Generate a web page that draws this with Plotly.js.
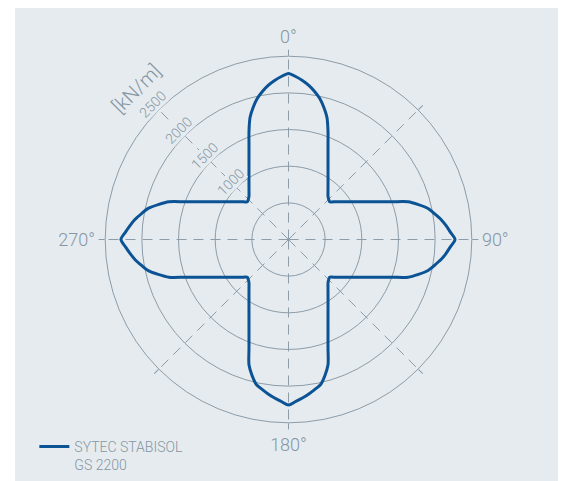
<!DOCTYPE html>
<html>
<head>
<meta charset="utf-8">
<script src="https://cdn.plot.ly/plotly-3.0.1.min.js"></script>
<style>html,body{margin:0;padding:0;background:#fff;}#chart{width:563px;height:481px;}</style>
</head>
<body>
<div id="chart"></div>
<script>
// Direction (degrees, clockwise from top) and tensile strength [kN/m]
const thetaDeg = [
  0, 2.5, 5, 7.5, 10, 12.5, 15, 17.5, 20, 22.5, 25, 30, 35, 40, 42.5, 45,
  47.5, 50, 55, 60, 65, 67.5, 70, 72.5, 75, 77.5, 80, 82.5, 85, 87.5, 90,
  92.5, 95, 97.5, 100, 102.5, 105, 107.5, 110, 112.5, 115, 120, 125, 130, 132.5, 135,
  137.5, 140, 145, 150, 155, 157.5, 160, 162.5, 165, 167.5, 170, 172.5, 175, 177.5, 180,
  182.5, 185, 187.5, 190, 192.5, 195, 197.5, 200, 202.5, 205, 210, 215, 220, 222.5, 225,
  227.5, 230, 235, 240, 245, 247.5, 250, 252.5, 255, 257.5, 260, 262.5, 265, 267.5, 270,
  272.5, 275, 277.5, 280, 282.5, 285, 287.5, 290, 292.5, 295, 300, 305, 310, 312.5, 315,
  317.5, 320, 325, 330, 335, 337.5, 340, 342.5, 345, 347.5, 350, 352.5, 355, 357.5, 360
];
const strength = [
  2265, 2225, 2177, 2120, 2050, 1970, 1865, 1745, 1575, 1408, 1275, 1078, 940, 838, 798, 775,
  761, 800, 896, 1028, 1217, 1344, 1503, 1710, 1835, 1950, 2023, 2098, 2158, 2212, 2271,
  2212, 2158, 2098, 2023, 1950, 1835, 1710, 1503, 1344, 1217, 1028, 896, 800, 761, 775,
  798, 838, 940, 1078, 1275, 1408, 1575, 1792, 1920, 2026, 2076, 2125, 2171, 2212, 2257,
  2212, 2171, 2125, 2076, 2026, 1920, 1792, 1575, 1408, 1275, 1078, 940, 838, 798, 775,
  761, 800, 896, 1028, 1217, 1344, 1503, 1710, 1840, 1960, 2035, 2110, 2170, 2228, 2285,
  2228, 2170, 2110, 2035, 1960, 1840, 1710, 1503, 1344, 1217, 1028, 896, 800, 761, 775,
  798, 838, 940, 1078, 1275, 1408, 1575, 1745, 1865, 1970, 2050, 2120, 2177, 2225, 2265
];
const seriesName = 'SYTEC STABISOL<br>GS 2200';
const radialTicks = [500, 1000, 1500, 2000, 2500];
const radialTickText = ['', '1000', '1500', '2000', '2500'];
const angleTicks = [0, 45, 90, 135, 180, 225, 270, 315];
const angleTickText = ['0°', '', '90°', '', '180°', '', '270°', ''];
const unitLabel = '[kN/m]';
const labelDirDeg = 315; // radial labels sit on the 315° spoke (clockwise from top = upper-left)

const FONT = 'Roboto, "Open Sans", sans-serif';
const TXT = '#8496a3';
const GRID = '#8c9ca8';
const BG = '#e6ebef';
const RMAX = radialTicks[radialTicks.length - 1];

const polarDomX = [105.2 / 563, 471.8 / 563];
const polarDomY = [1 - 422.8 / 481, 1 - 56.2 / 481];

const trace = {
  type: 'scatterpolar',
  r: strength,
  theta: thetaDeg,
  mode: 'lines',
  name: seriesName,
  line: {color: '#0b5394', width: 3, shape: 'spline', smoothing: 0.8},
  hoverinfo: 'skip'
};
// invisible helper trace so the overlay cartesian axes (used to place radial labels) exist
const helper = {type: 'scatter', x: [], y: [], xaxis: 'x', yaxis: 'y', showlegend: false, hoverinfo: 'skip'};

// radial tick labels along the labelled spoke, placed through the overlay axes' scales
const dir = labelDirDeg * Math.PI / 180;
const radialLabels = [];
radialTicks.forEach((v, i) => {
  if (!radialTickText[i]) return;
  radialLabels.push({
    text: radialTickText[i], xref: 'x', yref: 'y',
    x: v * Math.sin(dir), y: v * Math.cos(dir),
    xanchor: 'center', yanchor: 'middle',
    xshift: -6, yshift: 6,
    showarrow: false, textangle: -45,
    bgcolor: BG, borderpad: 0,
    font: {family: FONT, size: 14, color: TXT, weight: 300}
  });
});

const layout = {
  width: 563, height: 481,
  margin: {l: 0, r: 0, t: 0, b: 0},
  paper_bgcolor: '#ffffff',
  plot_bgcolor: 'rgba(0,0,0,0)',
  font: {family: FONT, color: TXT, weight: 300},
  showlegend: true,
  legend: {
    x: 0.061, y: 0, xanchor: 'left', yanchor: 'bottom',
    bgcolor: 'rgba(0,0,0,0)', valign: 'top',
    font: {family: FONT, size: 14, color: TXT, weight: 300},
    itemwidth: 30
  },
  xaxis: {domain: polarDomX, range: [-RMAX, RMAX], visible: false, fixedrange: true},
  yaxis: {domain: polarDomY, range: [-RMAX, RMAX], visible: false, fixedrange: true},
  shapes: [{
    type: 'rect', xref: 'paper', yref: 'paper', layer: 'below',
    x0: 15 / 563, x1: 558 / 563, y0: 0, y1: 1 - 8 / 481,
    fillcolor: BG, line: {width: 0}
  }],
  annotations: [{
    text: unitLabel, xref: 'paper', yref: 'paper',
    x: 136 / 563, y: 1 - 89 / 481, xanchor: 'center', yanchor: 'middle',
    showarrow: false, textangle: -45,
    font: {family: FONT, size: 20, color: TXT, weight: 300}
  }].concat(radialLabels),
  polar: {
    domain: {x: polarDomX, y: polarDomY},
    bgcolor: BG,
    radialaxis: {
      range: [0, RMAX], tickmode: 'array', tickvals: radialTicks, ticktext: radialTickText,
      angle: 135, showticklabels: false, showline: false, ticks: '',
      showgrid: true, gridcolor: GRID, gridwidth: 1
    },
    angularaxis: {
      rotation: 90, direction: 'clockwise',
      tickmode: 'array', tickvals: angleTicks, ticktext: angleTickText,
      ticks: 'outside', ticklen: 6, tickcolor: GRID, tickwidth: 1,
      showgrid: true, gridcolor: GRID, gridwidth: 1, griddash: '10px,7px',
      showline: true, linecolor: GRID, linewidth: 1,
      tickfont: {family: FONT, size: 18, color: TXT, weight: 300}
    }
  }
};

Plotly.newPlot('chart', [trace, helper], layout, {displayModeBar: false, staticPlot: true});
</script>
</body>
</html>
